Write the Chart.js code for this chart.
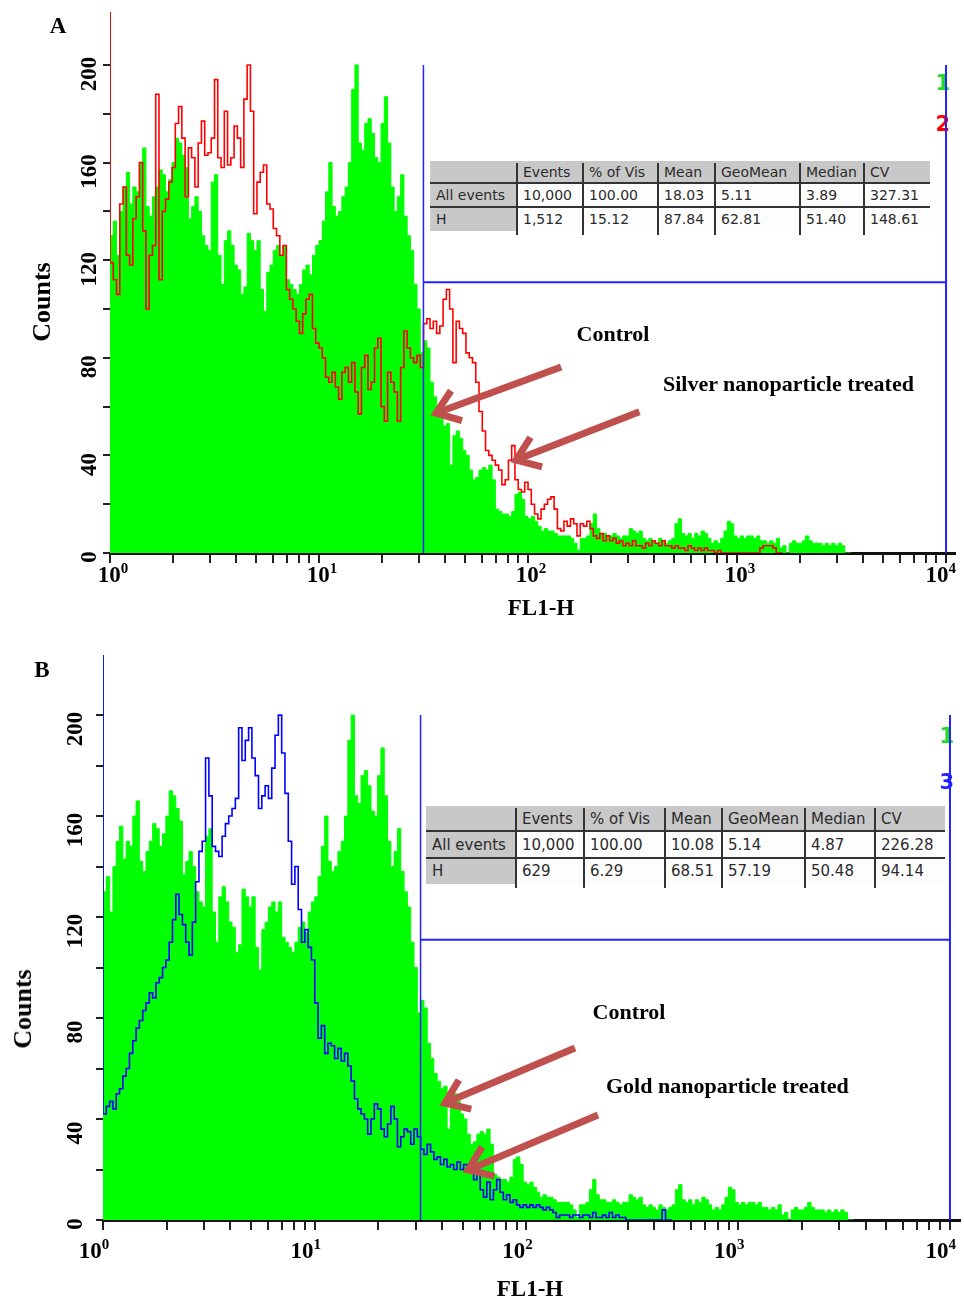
<!DOCTYPE html>
<html>
<head>
<meta charset="utf-8">
<script src="https://cdn.jsdelivr.net/npm/chart.js@4.4.1/dist/chart.umd.min.js"></script>
<style>
  html, body { margin: 0; padding: 0; background: #fff; }
  #page { position: relative; width: 964px; height: 1299px; overflow: hidden;
          font-family: "Liberation Serif", "Times New Roman", serif; }
  #page canvas { position: absolute; left: 0; }
  .lbl { position: absolute; font-weight: bold; color: #000; white-space: nowrap;
         transform: translate(-50%, -50%); line-height: 1; }
  .cell { position: absolute; box-sizing: border-box; padding-left: 6px; white-space: nowrap;
          font-family: "DejaVu Sans", Tahoma, sans-serif; color: #2b2b2b;
          display: flex; align-items: center; }
  .rule { position: absolute; background: #333; }
</style>
</head>
<body>
<div id="page">
  <canvas id="chartA" width="964" height="640" style="top:0"></canvas>
  <canvas id="chartB" width="964" height="659" style="top:640px"></canvas>
</div>
<script>
(function () {
  'use strict';

  // ---- data: histogram counts per channel (64 channels per decade of FL1-H) ----
  const CHANNELS_PER_DECADE = 64;

  // control sample (green fill, same in both panels)
  const GREEN_CONTROL = [
    400,
    130, 136, 122, 140, 150, 156, 143, 150, 148, 160,
    166, 142, 138, 146, 150, 157, 155, 148, 153, 160,
    170, 168, 163, 158, 137, 142, 146, 140, 130, 126,
    124, 152, 155, 122, 110, 128, 132, 126, 118, 116,
    106, 109, 131, 128, 124, 128, 108,  99, 115, 118,
    124, 126, 122, 126, 112, 110, 108, 106, 110, 116,
    118, 114, 122, 126, 128, 136, 148, 160, 142, 138,
    140, 146, 150, 160, 190, 200, 168, 165, 176, 178,
    172, 162, 160, 176, 187, 168, 150, 140, 146, 155,
    138, 130, 124, 110, 100,  82,  87,  84,  70,  64,
     58,  55,  52,  53,  36,  48,  50,  47,  42,  40,
     34,  30,  31,  34,  35,  34,  36,  30,  18,  17,
     16,  16,  15,  17,  24,  25,  22,  15,  14,  15,
     13,  11,   9,  10,   9,   9,   8,   7,   7,   7,
      7,   6,   4,   1,   6,   6,   7,  12,  16,  10,
      8,   8,   7,   7,   8,   7,   6,   7,   7,  10,
      9,   8,   9,   6,   5,   6,   5,   4,   6,   5,
      4,   5,   6,  12,  14,   8,   7,   8,   6,   8,
      7,   9,   8,   6,   4,   5,   4,   6,   9,  13,
     12,   7,   6,   7,   6,   7,   7,   6,   7,   5,
      5,   4,   5,   4,   6,   2,   3,   0,   4,   5,
      4,   4,   5,   7,   5,   4,   4,   4,   3,   4,
      3,   4,   3,   4,   3,   0
  ];

  // silver nanoparticle treated (red line, panel A)
  const RED_SILVER = [
    400,
    119, 112, 106, 143, 150, 122, 118, 137, 146, 160,
    132, 100, 122, 126, 188, 112, 140, 145, 152, 158,
    176, 183, 170, 146, 166, 162, 150, 168, 177, 163,
    164, 170, 194, 162, 158, 181, 159, 162, 175, 170,
    158, 186, 200, 181, 139, 152, 156, 159, 143, 141,
    133, 130, 122, 126, 108, 104, 100,  95,  90,  98,
    104, 106,  92,  86,  84,  80,  72,  70,  74,  68,
     63,  74,  76,  70,  78,  66,  57,  76,  81,  67,
     70,  84,  88,  60,  54,  74,  70,  66,  54,  76,
     91,  84,  80,  78,  81,  76,  94,  96,  92,  95,
     90,  93, 104, 108, 100,  78,  95,  92,  90,  82,
     80,  78,  70,  58,  50,  42,  40,  38,  36,  34,
     28,  30,  38,  44,  30,  26,  25,  29,  26,  20,
     16,  14,  18,  20,  22,  23,  18,  10,   9,  13,
     11,  14,  12,   7,  12,  11,  13,  10,   7,   6,
      8,   5,   7,   5,   6,   4,   5,   3,   4,   3,
      5,   3,   3,   2,   4,   3,   5,   4,   3,   5,
      3,   3,   2,   3,   2,   2,   1,   3,   2,   1,
      2,   1,   2,   1,   1,   0,   1,   0,   0,   0,
      0,   0,   0,   0,   0,   0,   0,   0,   0,   2,
      3,   3,   3,   2,   0
  ];

  // gold nanoparticle treated (blue line, panel B)
  const BLUE_GOLD = [
    400,
     42,  45,  47,  44,  50,  52,  57,  60,  66,  71,
     76,  79,  83,  86,  90,  88,  94,  96, 100, 103,
    110, 119, 129, 121, 117, 110, 105, 118, 134, 146,
    150, 183, 168, 148, 146, 144, 152, 157, 160, 163,
    167, 195, 182, 190, 195, 183, 176, 163, 168, 172,
    167, 179, 192, 200, 185, 169, 150, 133, 140, 123,
    110, 115, 108, 103,  86,  72,  77,  66,  70,  69,
     64,  68,  63,  66,  61,  55,  48,  44,  42,  40,
     34,  40,  46,  44,  36,  33,  38,  45,  40,  29,
     33,  36,  35,  30,  36,  33,  28,  26,  30,  27,
     24,  25,  22,  24,  21,  22,  20,  23,  20,  22,
     19,  21,  16,  18,  12,   9,  15,   8,  12,  16,
     11,   8,  10,   7,   8,   6,   5,   6,   5,   6,
      5,   6,   5,   4,   5,   4,   3,   1,   2,   2,
      2,   1,   2,   2,   1,   2,   2,   1,   3,   1,
      1,   2,   1,   3,   1,   2,   1,   1,   0,   0,
      0,   0,   0,   0,   0,   0,   0,   0,   0,   4,
      0
  ];

  const Y_TICKS   = [0, 20, 40, 60, 80, 100, 120, 140, 160, 180, 200];
  const Y_LABELS  = [0, 40, 80, 120, 160, 200];
  const X_DECADES = [1, 10, 100, 1000, 10000];
  const X_EXPONENTS = ['0', '1', '2', '3', '4'];
  const X_STEPS   = [1, 2, 3, 4, 5, 6, 7, 8, 9];

  const TABLE_HEAD = ['', 'Events', '% of Vis', 'Mean', 'GeoMean', 'Median', 'CV'];
  const TABLE_A = [
    ['All events', '10,000', '100.00', '18.03', '5.11', '3.89', '327.31'],
    ['H', '1,512', '15.12', '87.84', '62.81', '51.40', '148.61'],
  ];
  const TABLE_B = [
    ['All events', '10,000', '100.00', '10.08', '5.14', '4.87', '226.28'],
    ['H', '629', '6.29', '68.51', '57.19', '50.48', '94.14'],
  ];

  // marker "H": from ~31.6 to 10^4, drawn at count 111
  const GATE_FROM = 31.6, GATE_TO = 10000, GATE_LEVEL = 111, GATE_TOP = 200;

  const GREEN = '#00ff00', RED = '#ff0000', BLUE = '#0000ff';
  const GATE_COLOR = '#2323ff';
  const ARROW_COLOR = '#c0504d';
  const SERIF = '"Liberation Serif", "Times New Roman", serif';

  const X_TICK_VALUES = [];
  X_DECADES.forEach((d) => {
    if (d === 10000) X_TICK_VALUES.push(d);
    else X_STEPS.forEach((m) => X_TICK_VALUES.push(m * d));
  });

  function toPoints(counts) {
    const pts = counts.map((v, c) => ({ x: Math.pow(10, c / CHANNELS_PER_DECADE), y: v }));
    pts.push({ x: Math.pow(10, counts.length / CHANNELS_PER_DECADE), y: 0 });
    return pts;
  }

  function drawArrow(ctx, x1, y1, x2, y2) {
    const ang = Math.atan2(y2 - y1, x2 - x1);
    const head = 27, spread = Math.PI / 5;
    ctx.save();
    ctx.strokeStyle = ARROW_COLOR;
    ctx.lineWidth = 7;
    ctx.lineCap = 'butt';
    ctx.lineJoin = 'miter';
    ctx.beginPath();
    ctx.moveTo(x1, y1);
    ctx.lineTo(x2 - Math.cos(ang) * 4, y2 - Math.sin(ang) * 4);
    ctx.stroke();
    ctx.beginPath();
    ctx.moveTo(x2 - head * Math.cos(ang - spread), y2 - head * Math.sin(ang - spread));
    ctx.lineTo(x2, y2);
    ctx.lineTo(x2 - head * Math.cos(ang + spread), y2 - head * Math.sin(ang + spread));
    ctx.stroke();
    ctx.restore();
  }

  const overlay = {
    id: 'overlay',
    afterDatasetsDraw(chart, args, o) {
      const { ctx, scales: { x, y } } = chart;
      // sample numbers at the right edge
      ctx.save();
      ctx.font = 'bold 21px "DejaVu Sans", sans-serif';
      ctx.textAlign = 'right';
      ctx.textBaseline = 'middle';
      o.markers.forEach((m) => {
        ctx.fillStyle = m.color;
        ctx.fillText(m.text, x.getPixelForValue(GATE_TO) + 4, y.getPixelForValue(m.y));
      });
      ctx.restore();

      // gate lines
      const gx0 = x.getPixelForValue(GATE_FROM), gx1 = x.getPixelForValue(GATE_TO);
      const gy = y.getPixelForValue(GATE_LEVEL), gt = y.getPixelForValue(GATE_TOP), g0 = y.getPixelForValue(0);
      ctx.save();
      ctx.strokeStyle = GATE_COLOR;
      ctx.lineWidth = 1.5;
      ctx.beginPath(); ctx.moveTo(gx0, gt); ctx.lineTo(gx0, g0); ctx.stroke();
      ctx.lineWidth = 2;
      ctx.beginPath(); ctx.moveTo(gx0, gy); ctx.lineTo(gx1, gy); ctx.stroke();
      ctx.beginPath(); ctx.moveTo(gx1, gt); ctx.lineTo(gx1, g0); ctx.stroke();
      ctx.restore();

      // annotation arrows, given in data units
      o.arrows.forEach((a) => drawArrow(ctx,
        x.getPixelForValue(a.from[0]), y.getPixelForValue(a.from[1]),
        x.getPixelForValue(a.to[0]), y.getPixelForValue(a.to[1])));
    },
    afterDraw(chart, args, o) {
      const { ctx, chartArea, scales: { x, y } } = chart;
      ctx.save();
      ctx.fillStyle = '#000';
      ctx.textBaseline = 'alphabetic';
      ctx.textAlign = 'left';
      X_DECADES.forEach((d, i) => {
        const px = x.getPixelForValue(d);
        ctx.font = `bold ${o.xFont}px ${SERIF}`;
        const w1 = ctx.measureText('10').width;
        ctx.font = `bold ${o.supFont}px ${SERIF}`;
        const w2 = ctx.measureText(X_EXPONENTS[i]).width;
        let left = px - (w1 + w2) / 2 + o.xShift;
        left = Math.min(left, o.xLimit - w1 - w2);
        const base = chartArea.bottom + o.xBase;
        ctx.font = `bold ${o.xFont}px ${SERIF}`;
        ctx.fillText('10', left, base);
        ctx.font = `bold ${o.supFont}px ${SERIF}`;
        ctx.fillText(X_EXPONENTS[i], left + w1, base - o.supRaise);
      });
      ctx.textAlign = 'center';
      ctx.textBaseline = 'middle';
      ctx.font = `bold ${o.yFont}px ${SERIF}`;
      Y_LABELS.forEach((v) => {
        ctx.save();
        ctx.translate(chartArea.left - o.yOff, y.getPixelForValue(v) + (v === 0 ? 4 : o.yShift));
        ctx.rotate(-Math.PI / 2);
        ctx.fillText(String(v), 0, 0);
        ctx.restore();
      });
      ctx.restore();
    },
  };

  function makeChart(canvas, cfg) {
    const datasets = [
      { label: 'Control', data: toPoints(GREEN_CONTROL), stepped: 'after', fill: 'origin',
        backgroundColor: GREEN, borderColor: GREEN, borderWidth: 1, pointRadius: 0, order: 2 },
      { label: cfg.treatedLabel, data: toPoints(cfg.treated), stepped: 'after', fill: false,
        borderColor: cfg.treatedColor, borderWidth: 1.6, pointRadius: 0, order: 1 },
    ];
    return new Chart(canvas.getContext('2d'), {
      type: 'line',
      data: { datasets },
      options: {
        responsive: false,
        animation: false,
        events: [],
        layout: { padding: { left: 0, right: cfg.padRight, top: cfg.padTop, bottom: 0 } },
        plugins: {
          legend: { display: false },
          tooltip: { enabled: false },
          overlay: {
            markers: cfg.markers, arrows: cfg.arrows,
            xFont: 23, supFont: 15, supRaise: 9, xBase: cfg.xBase, xShift: cfg.xShift, xLimit: 956,
            yFont: 23, yOff: cfg.yOff, yShift: cfg.yShift,
          },
        },
        scales: {
          x: {
            type: 'logarithmic', min: 1, max: cfg.xMax, z: 1,
            afterBuildTicks: (s) => { s.ticks = X_TICK_VALUES.map((v) => ({ value: v })); },
            afterFit: (s) => { s.height = cfg.xAxisHeight; },
            ticks: { display: false },
            grid: { drawOnChartArea: false, drawTicks: true, tickLength: 10, color: '#222', lineWidth: 2 },
            border: { display: true, color: '#111', width: 3 },
          },
          y: {
            min: 0, max: cfg.yMax,
            afterBuildTicks: (s) => { s.ticks = Y_TICKS.map((v) => ({ value: v })); },
            afterFit: (s) => { s.width = cfg.yAxisWidth; },
            ticks: { display: false },
            grid: { drawOnChartArea: false, drawTicks: true, tickLength: 7, color: '#222', lineWidth: 2 },
            border: { display: true, color: '#222', width: 1 },
          },
        },
      },
      plugins: [overlay],
    });
  }

  makeChart(document.getElementById('chartA'), {
    treated: RED_SILVER, treatedColor: RED, treatedLabel: 'Silver nanoparticle treated',
    xMax: 11040, yMax: 221.7, padRight: 9, padTop: 12, xAxisHeight: 87, yAxisWidth: 110,
    xBase: 29, xShift: 3, yOff: 20, yShift: 9,
    markers: [{ text: '1', y: 192, color: '#22dd22' }, { text: '2', y: 175, color: RED }],
    arrows: [
      { from: [144, 76.2], to: [36.3, 57.3] },
      { from: [341, 57.9], to: [87.6, 38.1] },
    ],
  });

  makeChart(document.getElementById('chartB'), {
    treated: BLUE_GOLD, treatedColor: BLUE, treatedLabel: 'Gold nanoparticle treated',
    xMax: 11150, yMax: 223.8, padRight: 4, padTop: 15, xAxisHeight: 79, yAxisWidth: 103,
    xBase: 38, xShift: -9, yOff: 27, yShift: 14,
    markers: [{ text: '1', y: 191, color: '#22dd22' }, { text: '3', y: 173, color: '#2020ff' }],
    arrows: [
      { from: [169.4, 68.1], to: [41.2, 46.3] },
      { from: [217.6, 41.6], to: [53, 19.8] },
    ],
  });

  // ---- text overlays ----
  const page = document.getElementById('page');
  function label(text, cx, cy, size, rotate) {
    const el = document.createElement('div');
    el.className = 'lbl';
    el.textContent = text;
    el.style.left = cx + 'px';
    el.style.top = cy + 'px';
    el.style.fontSize = size + 'px';
    if (rotate) el.style.transform = 'translate(-50%, -50%) rotate(-90deg)';
    page.appendChild(el);
  }
  function leftLabel(text, x, cy, size) {
    const el = document.createElement('div');
    el.className = 'lbl';
    el.textContent = text;
    el.style.left = x + 'px';
    el.style.top = cy + 'px';
    el.style.fontSize = size + 'px';
    el.style.transform = 'translate(0, -50%)';
    page.appendChild(el);
  }

  label('A', 58, 25, 23);
  label('Counts', 42, 302, 26, true);
  label('FL1-H', 541, 607, 23);
  label('Control', 613, 334, 22);
  leftLabel('Silver nanoparticle treated', 663, 384, 22);

  label('B', 42, 669, 23);
  label('Counts', 23, 1009, 26, true);
  label('FL1-H', 530, 1288, 23);
  label('Control', 629, 1012, 22);
  leftLabel('Gold nanoparticle treated', 606, 1086, 22);

  function statsTable(rows, colEdges, rowEdges, fontSize) {
    const all = [TABLE_HEAD].concat(rows);
    all.forEach((row, r) => {
      row.forEach((txt, k) => {
        const el = document.createElement('div');
        el.className = 'cell';
        el.textContent = txt;
        el.style.left = colEdges[k] + 'px';
        el.style.top = rowEdges[r] + 'px';
        el.style.width = (colEdges[k + 1] - colEdges[k]) + 'px';
        el.style.height = (rowEdges[r + 1] - rowEdges[r]) + 'px';
        el.style.fontSize = fontSize + 'px';
        el.style.background = (r === 0 || k === 0) ? '#c8c8c8' : '#fdfdfd';
        page.appendChild(el);
      });
    });
    const w = colEdges[colEdges.length - 1] - colEdges[0];
    [1, 2].forEach((r) => {
      const ln = document.createElement('div');
      ln.className = 'rule';
      ln.style.left = colEdges[0] + 'px';
      ln.style.top = (rowEdges[r] - 1) + 'px';
      ln.style.width = w + 'px';
      ln.style.height = '2px';
      page.appendChild(ln);
    });
    colEdges.slice(1, -1).forEach((cx) => {
      const ln = document.createElement('div');
      ln.className = 'rule';
      ln.style.left = (cx - 1) + 'px';
      ln.style.top = (rowEdges[0] + 2) + 'px';
      ln.style.width = '2px';
      ln.style.height = (rowEdges[3] - rowEdges[0] + 2) + 'px';
      page.appendChild(ln);
    });
  }

  statsTable(TABLE_A, [430, 517, 583, 658, 715, 800, 864, 930], [161, 183, 207, 231], 14);
  statsTable(TABLE_B, [426, 516, 584, 665, 722, 805, 875, 945], [806, 831, 858, 884], 15);
})();
</script>
</body>
</html>
